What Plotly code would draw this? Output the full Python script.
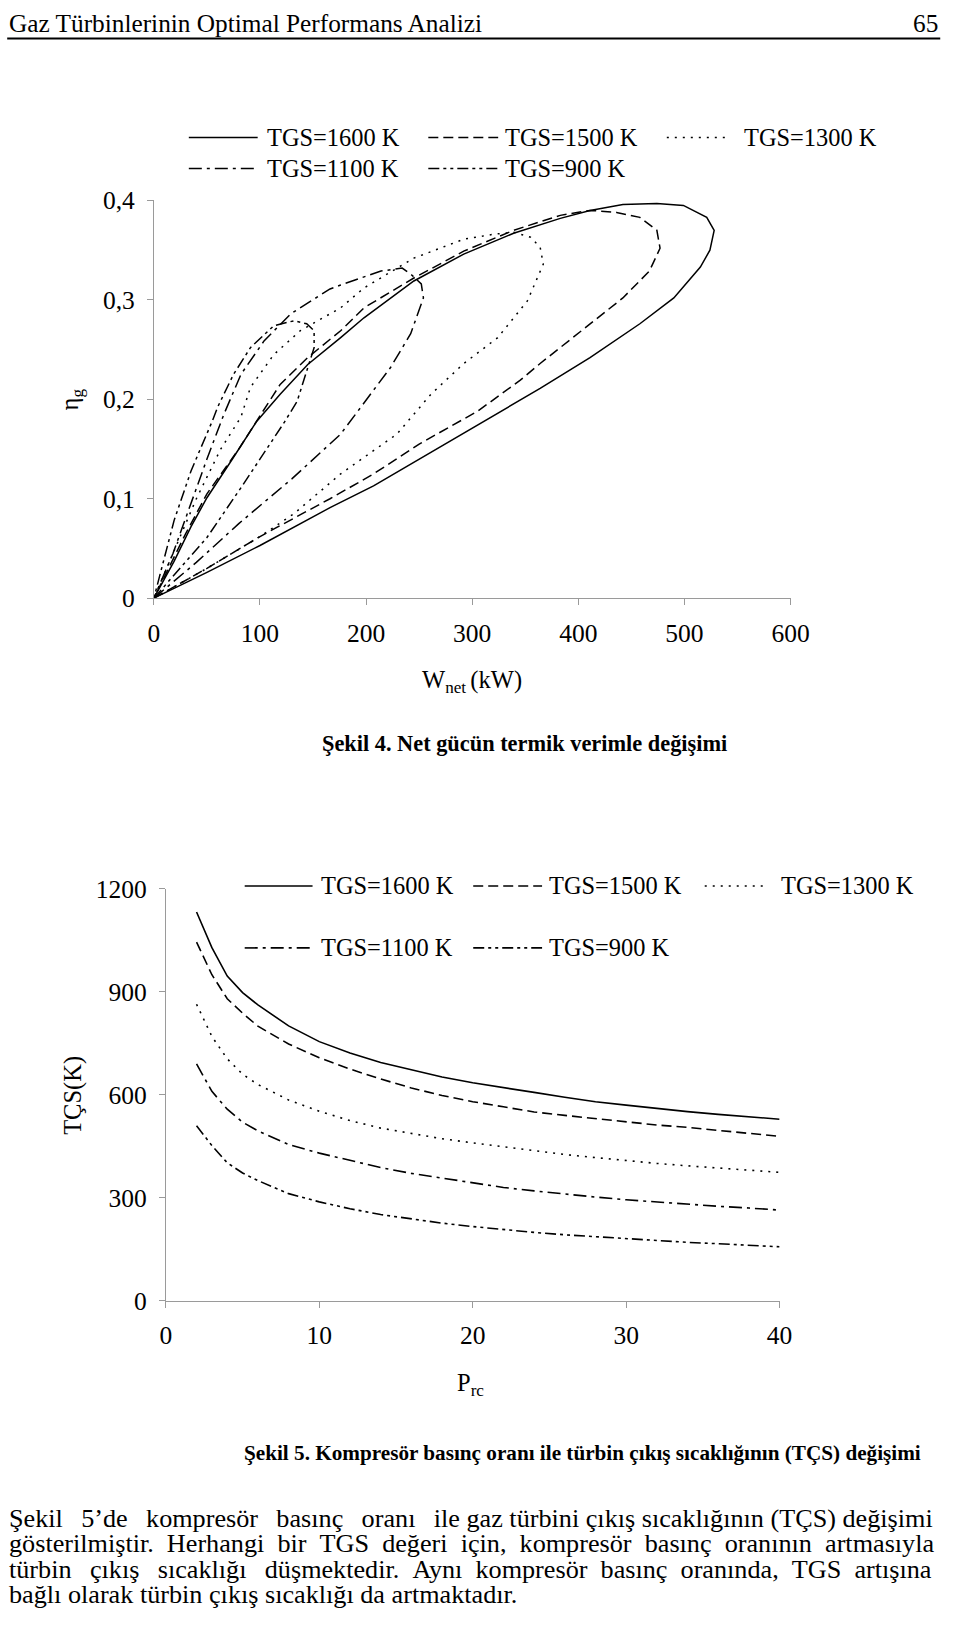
import plotly.graph_objects as go

FIG_W = 960
FIG_H = 1637
SERIF = "Liberation Serif, Times New Roman, serif"

# ---- Şekil 4: net power (kW) vs thermal efficiency, loop traced from origin
labels = ["TGS=1600 K", "TGS=1500 K", "TGS=1300 K", "TGS=1100 K", "TGS=900 K"]

w_1600 = [0, 50, 100, 166, 207, 250, 298, 364, 411, 458, 490, 515, 524, 528,
          521, 499, 474, 442, 411, 383, 339, 292, 245, 198, 176, 145, 119,
          97, 74, 50, 35, 19, 0]
eta_1600 = [0, .026, .053, .091, .113, .140, .170, .211, .242, .276, .302,
            .333, .350, .370, .383, .395, .397, .396, .390, .382, .367, .346,
            .319, .282, .262, .235, .205, .178, .140, .101, .072, .037, 0]

w_1500 = [0, 50, 100, 166, 207, 250, 305, 345, 364, 411, 442, 467, 477, 474,
          458, 436, 411, 383, 339, 292, 245, 198, 176, 145, 119, 101, 80, 50,
          30, 0]
eta_1500 = [0, .030, .062, .100, .125, .155, .188, .219, .236, .276, .302,
            .329, .352, .370, .383, .388, .390, .385, .370, .349, .322, .292,
            .269, .242, .215, .185, .150, .105, .065, 0]

w_1300 = [0, 50, 100, 132, 176, 229, 261, 292, 324, 352, 367, 364, 355, 339,
          320, 292, 245, 198, 176, 138, 113, 91, 82, 63, 40, 20, 0]
eta_1300 = [0, .030, .062, .085, .125, .165, .205, .236, .262, .299, .336,
            .353, .363, .368, .366, .361, .342, .312, .292, .269, .245, .212,
            .182, .150, .100, .050, 0]

w_1100 = [0, 40, 80, 130, 176, 201, 223, 242, 254, 252, 243, 234, 214, 176,
          166, 129, 104, 82, 66, 50, 35, 18, 0]
eta_1100 = [0, .036, .075, .120, .165, .201, .232, .266, .302, .316, .325,
            .332, .329, .315, .311, .286, .259, .225, .185, .140, .095, .045, 0]

w_900 = [0, 25, 50, 82, 123, 135, 146, 151, 151, 144, 132, 113, 91, 75, 60,
         55, 35, 19, 0]
eta_900 = [0, .030, .061, .111, .177, .198, .235, .252, .269, .276, .279,
           .274, .252, .225, .192, .178, .128, .078, 0]

# ---- Şekil 5: compressor pressure ratio vs turbine exit temperature (K)
prc = [2, 3, 4, 5, 6, 8, 10, 12, 14, 16, 18, 20, 22, 24, 26, 28, 30, 32, 34,
       36, 38, 40]
tcs_1600 = [1133, 1029, 946, 898, 862, 801, 755, 722, 694, 672, 652, 635, 620,
            607, 593, 580, 570, 560, 551, 543, 536, 529]
tcs_1500 = [1045, 950, 880, 838, 800, 748, 708, 675, 646, 620, 598, 580, 565,
            550, 540, 530, 520, 512, 505, 497, 488, 479]
tcs_1300 = [864, 770, 705, 660, 630, 585, 552, 525, 503, 487, 472, 460, 448,
            436, 426, 417, 408, 400, 393, 386, 380, 374]
tcs_1100 = [690, 610, 558, 520, 495, 455, 430, 408, 388, 371, 357, 343, 330,
            320, 310, 302, 294, 287, 281, 275, 270, 264]
tcs_900 = [510, 452, 402, 372, 350, 312, 288, 268, 251, 238, 226, 216, 207,
           199, 192, 186, 180, 175, 170, 166, 161, 157]

eff_curves = [(w_1600, eta_1600), (w_1500, eta_1500), (w_1300, eta_1300),
              (w_1100, eta_1100), (w_900, eta_900)]
tcs_curves = [tcs_1600, tcs_1500, tcs_1300, tcs_1100, tcs_900]

dashes = ["solid", "10px,5px", "2px,6px", "13px,5px,3px,5px",
          "11px,4px,3px,4px,3px,4px"]

# the photographed page comes out ~2% smaller than the layout and nudged
# right/down, so wanted pixel spots are mapped back to paper fractions here
OFF_X, SCALE_X = 4.8, 0.976
OFF_Y, SCALE_Y = 12.4, 0.983


def px(x):
    return (x - OFF_X) / SCALE_X / FIG_W


def py(y):
    return 1 - (y - OFF_Y) / SCALE_Y / FIG_H


def text_at(fig, x, y, text, size=24.5, anchor="center", angle=0):
    fig.add_annotation(x=px(x), y=py(y), xref="paper", yref="paper",
                       text=text, showarrow=False, xanchor=anchor,
                       yanchor="middle", textangle=angle,
                       font=dict(family=SERIF, size=size, color="black"))


def justify(line, n_en, n_thin):
    # widen the gaps a bit so the line fills the text column
    words = line.split(" ")
    out = words[0]
    for i, word in enumerate(words[1:]):
        gap = "\u2002" if i < n_en else " "
        if i < n_thin:
            gap += "\u2009"
        out += gap + word
    return out


fig = go.Figure()

for (w, eta), name, dash in zip(eff_curves, labels, dashes):
    fig.add_trace(go.Scatter(x=w, y=eta, mode="lines", name=name,
                             line=dict(color="black", width=1.5, dash=dash),
                             xaxis="x", yaxis="y", showlegend=False))

for tcs, name, dash in zip(tcs_curves, labels, dashes):
    fig.add_trace(go.Scatter(x=prc, y=tcs, mode="lines", name=name,
                             line=dict(color="black", width=1.6, dash=dash),
                             xaxis="x2", yaxis="y2", showlegend=False))

axis_style = dict(showline=True, linecolor="#9a9a9a", linewidth=1,
                  ticks="outside", tickcolor="#9a9a9a", ticklen=6,
                  showgrid=False, zeroline=False,
                  tickfont=dict(family=SERIF, size=25.5, color="black"))

fig.update_layout(
    width=FIG_W, height=FIG_H,
    margin=dict(l=0, r=0, t=0, b=0),
    paper_bgcolor="white", plot_bgcolor="white",
    separators=", ",
    font=dict(family=SERIF, color="black"),
    xaxis=dict(domain=[px(153), px(791)], range=[0, 600], dtick=100,
               anchor="y", ticklabelstandoff=6, **axis_style),
    yaxis=dict(domain=[py(597), py(199)], range=[0, 0.4], dtick=0.1,
               anchor="x", ticklabelstandoff=7, **axis_style),
    xaxis2=dict(domain=[px(165), px(780)], range=[0, 40], dtick=10,
                anchor="y2", ticklabelstandoff=6, **axis_style),
    yaxis2=dict(domain=[py(1300), py(888)], range=[0, 1200], dtick=300,
                anchor="x2", ticklabelstandoff=7, **axis_style),
)

# hand-placed legends (sample line + label), one per figure
legend_slots = {
    "fig4": dict(rows=[136, 167], cols=[(188, 257, 264), (428, 498, 503),
                                       (667, 730, 742)]),
    "fig5": dict(rows=[885, 947], cols=[(244, 312, 318), (473, 542, 547),
                                       (705, 767, 779)]),
}
for slot in legend_slots.values():
    for i, (name, dash) in enumerate(zip(labels, dashes)):
        row = slot["rows"][i // 3]
        x0, x1, xt = slot["cols"][i % 3]
        fig.add_shape(type="line", xref="paper", yref="paper",
                      x0=px(x0), x1=px(x1), y0=py(row), y1=py(row),
                      line=dict(color="black", width=1.6, dash=dash))
        text_at(fig, xt, row, name, size=24.4, anchor="left")

# page header (kept just inside the top/right edge)
text_at(fig, 6, 21, "Gaz Türbinlerinin Optimal Performans Analizi",
        size=25.3, anchor="left")
text_at(fig, 941, 21, "65", size=25.3, anchor="right")
fig.add_shape(type="line", xref="paper", yref="paper", x0=px(6), x1=px(941),
              y0=py(37), y1=py(37), line=dict(color="black", width=2))

# axis titles
text_at(fig, 70, 398, "η<sub>g</sub>", angle=-90)
text_at(fig, 472, 680, "W<sub>net </sub>(kW)")
text_at(fig, 72, 1095, "TÇS(K)", angle=-90)
text_at(fig, 470, 1384, "P<sub>rc</sub>")

# captions
text_at(fig, 524, 742, "<b>Şekil 4. Net gücün termik verimle değişimi</b>",
        size=22.35)
text_at(fig, 583, 1452, "<b>Şekil 5. Kompresör basınç oranı ile türbin çıkış "
                        "sıcaklığının (TÇS) değişimi</b>", size=21.2)

body = [
    "Şekil 5’de kompresör basınç oranı ile gaz türbini çıkış sıcaklığının (TÇS) değişimi",
    "gösterilmiştir. Herhangi bir TGS değeri için, kompresör basınç oranının artmasıyla",
    "türbin çıkış sıcaklığı düşmektedir. Aynı kompresör basınç oranında, TGS artışına",
    "bağlı olarak türbin çıkış sıcaklığı da artmaktadır.",
]
gap_fill = [(5, 5), (9, 0), (10, 3), None]
for k, (line, fill) in enumerate(zip(body, gap_fill)):
    if fill is not None:
        line = justify(line, *fill)
    text_at(fig, 6, 1518 + 25.5 * k, line, size=26.2, anchor="left")

# pin the graph to the page corner so nothing else shifts or pads it
pin_page = """
var root = document.documentElement;
root.style.margin = '0'; root.style.padding = '0'; root.style.overflow = 'hidden';
document.body.style.margin = '0'; document.body.style.padding = '0';
document.body.style.overflow = 'hidden';
var g = document.getElementById('{plot_id}');
g.style.position = 'absolute'; g.style.left = '0px'; g.style.top = '0px';
document.querySelectorAll('svg.main-svg').forEach(function (s) {
    s.style.overflow = 'hidden';
});
"""

fig.write_html("out.html", config={"displayModeBar": False},
               post_script=pin_page)
